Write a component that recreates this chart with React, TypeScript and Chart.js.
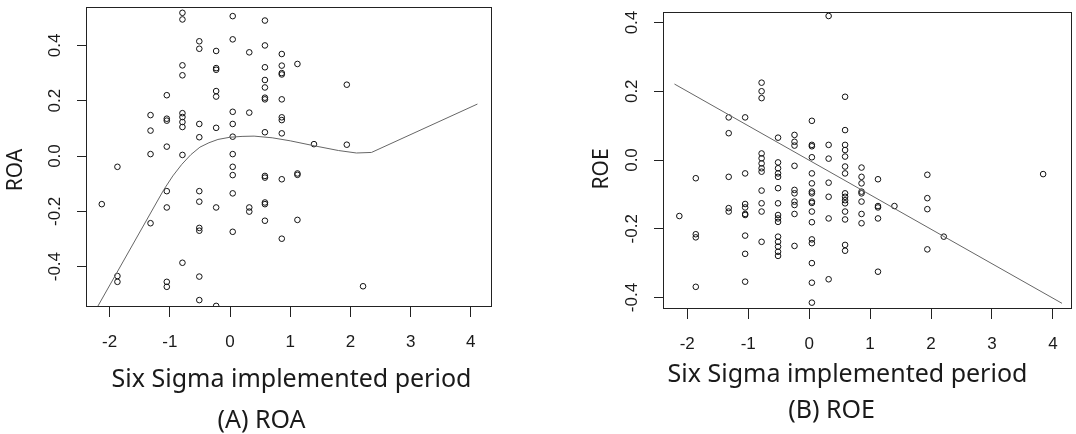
import React, { useEffect, useRef } from "react";
import { Chart, registerables } from "chart.js";
Chart.register(...registerables);

// ---- tick values / labels ----
const xTicks = [-2, -1, 0, 1, 2, 3, 4];
const yTicks = [-0.4, -0.2, 0, 0.2, 0.4];
const yTickLabels = ["-0.4", "-0.2", "0.0", "0.2", "0.4"];

// ---- (A) ROA scatter ----
const roaX = [
  -2.13,
  -1.87, -1.87, -1.87,
  -1.32, -1.32, -1.32, -1.32,
  -1.05, -1.05, -1.05, -1.05, -1.05, -1.05, -1.05, -1.05,
  -0.79, -0.79, -0.79, -0.79, -0.79, -0.79, -0.79, -0.79, -0.79, -0.79,
  -0.51, -0.51, -0.51, -0.51, -0.51, -0.51, -0.51, -0.51, -0.51, -0.51,
  -0.23, -0.23, -0.23, -0.23, -0.23, -0.23, -0.23, -0.23,
  0.045, 0.045, 0.045, 0.045, 0.045, 0.045, 0.045, 0.045, 0.045, 0.045,
  0.32, 0.32, 0.32, 0.32,
  0.58, 0.58, 0.58, 0.58, 0.58, 0.58, 0.58, 0.58, 0.58, 0.58, 0.58, 0.58, 0.58,
  0.86, 0.86, 0.86, 0.86, 0.86, 0.86, 0.86, 0.86, 0.86, 0.86,
  1.12, 1.12, 1.12, 1.12,
  1.395,
  1.94, 1.94,
  2.21,
];
const roaY = [
  -0.174,
  -0.039, -0.434, -0.455,
  0.148, 0.092, 0.007, -0.243,
  0.22, 0.135, 0.128, 0.034, -0.127, -0.186, -0.455, -0.473,
  0.518, 0.494, 0.328, 0.292, 0.155, 0.141, 0.123, 0.105, 0.004, -0.386,
  0.415, 0.388, 0.116, 0.068, -0.127, -0.165, -0.26, -0.27, -0.436, -0.521,
  0.38, 0.318, 0.312, 0.235, 0.215, 0.102, -0.186, -0.542,
  0.506, 0.422, 0.16, 0.116, 0.07, 0.007, -0.039, -0.069, -0.135, -0.274,
  0.375, 0.157, -0.186, -0.201,
  0.49, 0.4, 0.321, 0.275, 0.248, 0.211, 0.205, 0.086, -0.072, -0.078, -0.168, -0.174, -0.234,
  0.369, 0.327, 0.3, 0.295, 0.205, 0.14, 0.13, 0.082, -0.084, -0.299,
  0.333, -0.063, -0.068, -0.231,
  0.043,
  0.258, 0.041,
  -0.471,
];
// smoothed fit line for ROA
const roaFitX = [-2.2, -1.1, -0.95, -0.8, -0.65, -0.5, -0.35, -0.2, 0, 0.2, 0.4, 0.7, 1.0, 1.4, 1.8, 2.1, 2.35, 4.11];
const roaFitY = [-0.545, -0.122, -0.072, -0.03, 0.005, 0.032, 0.048, 0.06, 0.068, 0.071, 0.072, 0.066, 0.055, 0.037, 0.02, 0.011, 0.013, 0.188];

// ---- (B) ROE scatter ----
const roeX = [
  -2.13,
  -1.86, -1.86, -1.86, -1.86,
  -1.32, -1.32, -1.32, -1.32, -1.32,
  -1.05, -1.05, -1.05, -1.05, -1.05, -1.05, -1.05, -1.05, -1.05,
  -0.78, -0.78, -0.78, -0.78, -0.78, -0.78, -0.78, -0.78, -0.78, -0.78, -0.78, -0.78,
  -0.51, -0.51, -0.51, -0.51, -0.51, -0.51, -0.51, -0.51, -0.51, -0.51, -0.51, -0.51, -0.51, -0.51, -0.51,
  -0.24, -0.24, -0.24, -0.24, -0.24, -0.24, -0.24, -0.24, -0.24, -0.24,
  0.045, 0.045, 0.045, 0.045, 0.045, 0.045, 0.045, 0.045, 0.045, 0.045, 0.045, 0.045, 0.045, 0.045, 0.045, 0.045, 0.045,
  0.32, 0.32, 0.32, 0.32, 0.32, 0.32, 0.32,
  0.59, 0.59, 0.59, 0.59, 0.59, 0.59, 0.59, 0.59, 0.59, 0.59, 0.59, 0.59, 0.59, 0.59, 0.59,
  0.86, 0.86, 0.86, 0.86, 0.86, 0.86, 0.86, 0.86,
  1.13, 1.13, 1.13, 1.13, 1.13,
  1.4,
  1.94, 1.94, 1.94, 1.94,
  2.21,
  3.84,
];
const roeY = [
  -0.163,
  -0.053, -0.216, -0.225, -0.369,
  0.124, 0.078, -0.049, -0.14, -0.15,
  0.124, -0.039, -0.128, -0.138, -0.157, -0.16, -0.22, -0.273, -0.354,
  0.225, 0.2, 0.18, 0.019, 0.005, -0.01, -0.024, -0.034, -0.089, -0.126, -0.15, -0.238,
  0.065, -0.007, -0.024, -0.039, -0.049, -0.082, -0.126, -0.16, -0.17, -0.18, -0.223, -0.238, -0.252, -0.267, -0.279,
  0.073, 0.053, 0.042, -0.017, -0.087, -0.097, -0.121, -0.131, -0.157, -0.25,
  0.114, 0.044, 0.04, 0.008, -0.039, -0.068, -0.092, -0.097, -0.121, -0.125, -0.15, -0.181, -0.231, -0.242, -0.3, -0.357, -0.415,
  0.419, 0.044, 0.004, -0.066, -0.107, -0.17, -0.347,
  0.184, 0.087, 0.044, 0.029, 0.01, -0.019, -0.039, -0.097, -0.107, -0.117, -0.126, -0.15, -0.173, -0.247, -0.264,
  -0.022, -0.049, -0.068, -0.092, -0.097, -0.121, -0.157, -0.184,
  -0.056, -0.134, -0.138, -0.17, -0.325,
  -0.134,
  -0.043, -0.111, -0.143, -0.26,
  -0.223,
  -0.041,
];
// linear fit line for ROE
const roeFitX = [-2.21, 4.15];
const roeFitY = [0.221, -0.417];

const TEXT = "#1a1a1a";
const AXIS_FONT = '"Liberation Sans", Arial, sans-serif';
const TITLE_FONT = '"Noto Sans", sans-serif';

type Panel = {
  xs: number[]; ys: number[]; fx: number[]; fy: number[];
  xMin: number; xMax: number; yMin: number; yMax: number;
  padTop: number; padRight: number; yWidth: number; xHeight: number;
  yLabelX: number; yTitle: string; yTitleX: number; yTitleY: number;
  xTitle: string; xTitleX: number; xTitleY: number;
  caption: string; captionX: number; captionY: number;
};

function makeDecor(p: Panel) {
  return {
    id: "panelDecor",
    afterDraw(chart: any) {
      const { ctx, chartArea: a, scales } = chart;
      ctx.save();
      ctx.strokeStyle = "#222";
      ctx.lineWidth = 1;
      ctx.strokeRect(Math.round(a.left) + 0.5, Math.round(a.top) + 0.5, Math.round(a.right - a.left) - 1, Math.round(a.bottom - a.top) - 1);

      ctx.fillStyle = TEXT;
      ctx.font = `17px ${AXIS_FONT}`;
      ctx.textAlign = "center";
      ctx.textBaseline = "middle";
      yTicks.forEach((v, i) => {
        const py = scales.y.getPixelForValue(v);
        ctx.save();
        ctx.translate(p.yLabelX, py);
        ctx.rotate(-Math.PI / 2);
        ctx.fillText(yTickLabels[i], 0, 0);
        ctx.restore();
      });

      ctx.font = `21px ${TITLE_FONT}`;
      ctx.save();
      ctx.translate(p.yTitleX, p.yTitleY);
      ctx.rotate(-Math.PI / 2);
      ctx.fillText(p.yTitle, 0, 0);
      ctx.restore();

      ctx.font = `25px ${TITLE_FONT}`;
      ctx.textBaseline = "alphabetic";
      ctx.fillText(p.xTitle, p.xTitleX, p.xTitleY);
      ctx.fillText(p.caption, p.captionX, p.captionY);
      ctx.restore();
    },
  };
}

function makeConfig(p: Panel): any {
  return {
    type: "scatter",
    data: {
      datasets: [
        {
          type: "scatter",
          data: p.xs.map((x, i) => ({ x, y: p.ys[i] })),
          pointRadius: 2.8,
          pointHoverRadius: 2.8,
          pointBorderWidth: 1,
          borderColor: "#111",
          backgroundColor: "rgba(0,0,0,0)",
          order: 1,
        },
        {
          type: "line",
          data: p.fx.map((x, i) => ({ x, y: p.fy[i] })),
          borderColor: "#666",
          borderWidth: 1,
          pointRadius: 0,
          tension: 0,
          fill: false,
          order: 0,
        },
      ],
    },
    options: {
      responsive: false,
      animation: false,
      events: [],
      layout: { padding: { top: p.padTop, right: p.padRight, left: 0, bottom: 0 } },
      plugins: { legend: { display: false }, tooltip: { enabled: false } },
      scales: {
        x: {
          type: "linear",
          min: p.xMin,
          max: p.xMax,
          afterBuildTicks: (s: any) => { s.ticks = xTicks.map((v) => ({ value: v })); },
          afterFit: (s: any) => { s.height = p.xHeight; },
          grid: { drawOnChartArea: false, drawTicks: true, tickLength: 10, color: "#222", lineWidth: 1 },
          border: { display: false },
          ticks: { padding: 15, color: TEXT, font: { family: AXIS_FONT, size: 17 }, callback: (v: any) => String(v), maxRotation: 0, autoSkip: false },
        },
        y: {
          type: "linear",
          min: p.yMin,
          max: p.yMax,
          afterBuildTicks: (s: any) => { s.ticks = yTicks.map((v) => ({ value: v })); },
          afterFit: (s: any) => { s.width = p.yWidth; },
          grid: { drawOnChartArea: false, drawTicks: true, tickLength: 9, color: "#222", lineWidth: 1 },
          border: { display: false },
          ticks: { display: false },
        },
      },
    },
    plugins: [makeDecor(p)],
  };
}

const leftPanel: Panel = {
  xs: roaX, ys: roaY, fx: roaFitX, fy: roaFitY,
  xMin: -2.392, xMax: 4.352, yMin: -0.546, yMax: 0.539,
  padTop: 7, padRight: 48, yWidth: 86, xHeight: 127,
  yLabelX: 55.5, yTitle: "ROA", yTitleX: 16, yTitleY: 170,
  xTitle: "Six Sigma implemented period", xTitleX: 291.5, xTitleY: 387,
  caption: "(A) ROA", captionX: 261.5, captionY: 428,
};

const rightPanel: Panel = {
  xs: roeX, ys: roeY, fx: roeFitX, fy: roeFitY,
  xMin: -2.398, xMax: 4.317, yMin: -0.4335, yMax: 0.4306,
  padTop: 12, padRight: 0, yWidth: 123, xHeight: 125,
  yLabelX: 92, yTitle: "ROE", yTitleX: 62.5, yTitleY: 169,
  xTitle: "Six Sigma implemented period", xTitleX: 307.5, xTitleY: 382,
  caption: "(B) ROE", captionX: 291.5, captionY: 418,
};

function PanelChart({ panel, width, height }: { panel: Panel; width: number; height: number }) {
  const ref = useRef<HTMLCanvasElement | null>(null);
  useEffect(() => {
    if (!ref.current) return;
    const chart = new Chart(ref.current, makeConfig(panel));
    return () => chart.destroy();
  }, [panel]);
  return <canvas ref={ref} width={width} height={height} style={{ width, height, display: "block" }} />;
}

export default function App() {
  return (
    <div style={{ position: "fixed", left: 0, top: 0, width: 1076, height: 434, background: "#fff", overflow: "hidden" }}>
      <div style={{ position: "absolute", left: 0, top: 0 }}>
        <PanelChart panel={leftPanel} width={540} height={434} />
      </div>
      <div style={{ position: "absolute", left: 540, top: 0 }}>
        <PanelChart panel={rightPanel} width={536} height={434} />
      </div>
    </div>
  );
}
